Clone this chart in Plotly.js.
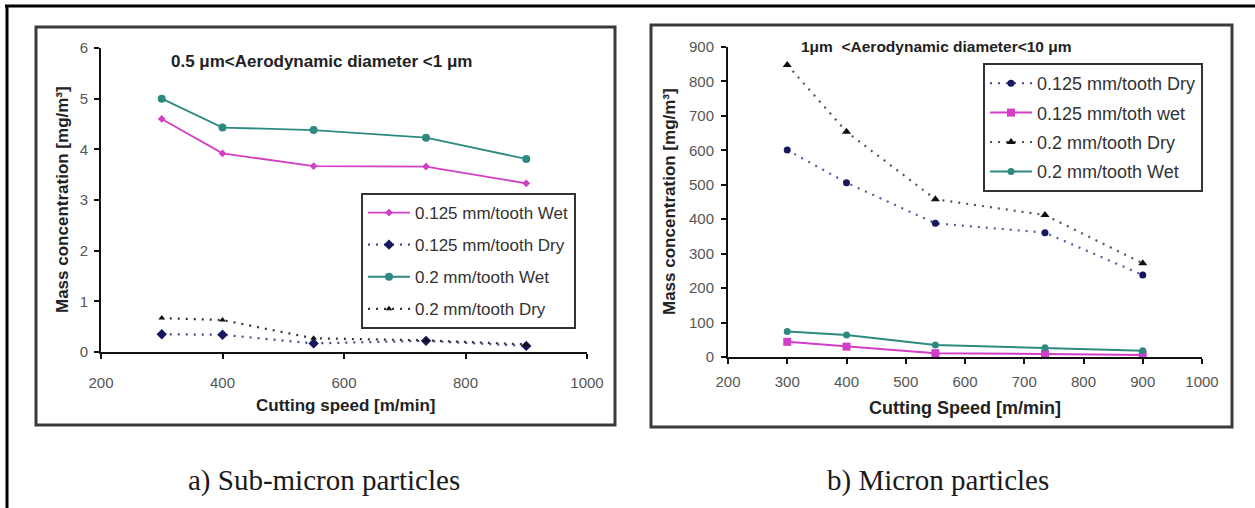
<!DOCTYPE html>
<html>
<head>
<meta charset="utf-8">
<script src="https://cdn.plot.ly/plotly-3.0.1.min.js"></script>
<style>html,body{margin:0;padding:0;background:#fff;}#chart{width:1255px;height:508px;}</style>
</head>
<body>
<div id="chart"></div>
<script>
// ---- data ----
const speeds = [300, 400, 550, 735, 900];
// a) sub-micron (0.5-1 um), mg/m3
const subWet0125 = [4.60, 3.92, 3.67, 3.66, 3.33];
const subDry0125 = [0.35, 0.34, 0.17, 0.22, 0.12];
const subWet02   = [5.00, 4.43, 4.38, 4.23, 3.81];
const subDry02   = [0.67, 0.63, 0.27, 0.23, 0.15];
// b) micron (1-10 um), mg/m3
const micDry0125 = [601, 506, 388, 361, 238];
const micWet0125 = [44, 30, 11, 9, 6];
const micDry02   = [848, 654, 458, 412, 272];
const micWet02   = [74, 64, 35, 27, 18];

const leftTicks = [200, 400, 600, 800, 1000];
const rightTicks = [200, 300, 400, 500, 600, 700, 800, 900, 1000];

const W = 1255, H = 508;
const px = v => v / W;
const py = v => 1 - v / H;
const SANS = 'Liberation Sans, Arial, sans-serif';
const SERIF = 'Liberation Serif, Times New Roman, serif';

const MAG = '#d23fc4', TEAL = '#2e8a80', NAVY = '#17175e';

const traces = [
  {x: speeds, y: subWet0125, name: '0.125 mm/tooth Wet', xaxis: 'x', yaxis: 'y', legend: 'legend', legendgroup: 'a1',
   mode: 'lines+markers', line: {color: MAG, width: 1.8}, marker: {color: MAG, symbol: 'diamond', size: 6}},
  {x: speeds, y: subDry0125, name: '0.125 mm/tooth Dry', xaxis: 'x', yaxis: 'y', legend: 'legend', legendgroup: 'a2',
   mode: 'lines+markers', line: {color: '#4a4a8a', width: 2.2, dash: '2px,6px'}, marker: {color: NAVY, symbol: 'diamond', size: 8}},
  {x: speeds, y: subWet02, name: '0.2 mm/tooth Wet', xaxis: 'x', yaxis: 'y', legend: 'legend', legendgroup: 'a3',
   mode: 'lines+markers', line: {color: TEAL, width: 1.8}, marker: {color: TEAL, symbol: 'circle', size: 8}},
  {x: speeds, y: subDry02, name: '0.2 mm/tooth Dry', xaxis: 'x', yaxis: 'y', legend: 'legend', legendgroup: 'a4',
   mode: 'lines+markers', line: {color: '#333', width: 2.2, dash: '2px,6px'}, marker: {color: '#111', symbol: 'triangle-up', size: 6}},

  {x: speeds, y: micDry0125, name: '0.125 mm/tooth Dry', xaxis: 'x2', yaxis: 'y2', legend: 'legend2', legendgroup: 'b1',
   mode: 'lines+markers', line: {color: '#5a5a9a', width: 2.2, dash: '2px,6px'}, marker: {color: NAVY, symbol: 'circle', size: 7}},
  {x: speeds, y: micWet0125, name: '0.125 mm/toth wet', xaxis: 'x2', yaxis: 'y2', legend: 'legend2', legendgroup: 'b2',
   mode: 'lines+markers', line: {color: MAG, width: 2}, marker: {color: MAG, symbol: 'square', size: 8}},
  {x: speeds, y: micDry02, name: '0.2 mm/tooth Dry', xaxis: 'x2', yaxis: 'y2', legend: 'legend2', legendgroup: 'b3',
   mode: 'lines+markers', line: {color: '#555', width: 2.2, dash: '2px,6px'}, marker: {color: '#111', symbol: 'triangle-up', size: 8}},
  {x: speeds, y: micWet02, name: '0.2 mm/tooth Wet', xaxis: 'x2', yaxis: 'y2', legend: 'legend2', legendgroup: 'b4',
   mode: 'lines+markers', line: {color: TEAL, width: 2}, marker: {color: TEAL, symbol: 'circle', size: 7}}
];

const axisBase = {
  showline: true, linecolor: '#111', linewidth: 2, ticks: 'outside', ticklen: 5, tickwidth: 2, tickcolor: '#111',
  showgrid: false, zeroline: false, fixedrange: true,
  tickfont: {family: SANS, size: 15, color: '#555'}
};

const legendBase = {
  xanchor: 'left', yanchor: 'top', bgcolor: '#fff', bordercolor: '#333', borderwidth: 2,
  traceorder: 'grouped', itemwidth: 42
};

const ann = (x, y, text, size, opts) => Object.assign({
  xref: 'paper', yref: 'paper', x: px(x), y: py(y), text: text, showarrow: false,
  xanchor: 'center', yanchor: 'middle', font: {family: SANS, size: size, color: '#222'}
}, opts || {});

const layout = {
  width: W, height: H, margin: {l: 0, r: 0, t: 0, b: 0},
  paper_bgcolor: '#fff', plot_bgcolor: 'rgba(0,0,0,0)',
  xaxis: Object.assign({}, axisBase, {domain: [px(101), px(587)], range: [200, 1000], tickvals: leftTicks, anchor: 'y', ticklabelstandoff: 11}),
  yaxis: Object.assign({}, axisBase, {domain: [1 - 352 / H, 1 - 48 / H], range: [0, 6], dtick: 1, anchor: 'x', ticklabelstandoff: 3}),
  xaxis2: Object.assign({}, axisBase, {domain: [px(728), px(1202)], range: [200, 1000], tickvals: rightTicks, anchor: 'y2', ticklabelstandoff: 5}),
  yaxis2: Object.assign({}, axisBase, {domain: [1 - 357 / H, 1 - 47 / H], range: [0, 900], dtick: 100, anchor: 'x2', ticklabelstandoff: 4}),
  legend: Object.assign({}, legendBase, {x: px(361), y: py(193), tracegroupgap: 7,
    font: {family: SANS, size: 17, color: '#333'}}),
  legend2: Object.assign({}, legendBase, {x: px(983), y: py(63), tracegroupgap: 3,
    font: {family: SANS, size: 18, color: '#333'}}),
  annotations: [
    ann(321, 61, '<b>0.5 μm&lt;Aerodynamic diameter &lt;1 μm</b>', 17),
    ann(936, 46, '<b>1μm  &lt;Aerodynamic diameter&lt;10 μm</b>', 15.5),
    ann(345, 405, '<b>Cutting speed [m/min]</b>', 17),
    ann(965, 408, '<b>Cutting Speed [m/min]</b>', 18),
    ann(63, 200, '<b>Mass concentration [mg/m³]</b>', 17, {textangle: -90}),
    ann(670, 202, '<b>Mass concentration [mg/m³]</b>', 17, {textangle: -90}),
    ann(324, 480, 'a) Sub-micron particles', 29, {font: {family: SERIF, size: 29, color: '#1a1a1a'}}),
    ann(938, 480, 'b) Micron particles', 29, {font: {family: SERIF, size: 29, color: '#1a1a1a'}})
  ],
  shapes: [
    {type: 'line', xref: 'paper', yref: 'paper', x0: px(5), x1: 1, y0: py(6), y1: py(6), line: {color: '#000', width: 3}},
    {type: 'line', xref: 'paper', yref: 'paper', x0: px(7), x1: px(7), y0: py(5), y1: 0, line: {color: '#000', width: 3}},
    {type: 'rect', xref: 'paper', yref: 'paper', x0: px(36), x1: px(615), y0: py(27), y1: py(425), line: {color: '#3a3a3a', width: 3}, layer: 'below'},
    {type: 'rect', xref: 'paper', yref: 'paper', x0: px(651), x1: px(1232), y0: py(25), y1: py(427), line: {color: '#3a3a3a', width: 3}, layer: 'below'}
  ],
  showlegend: true
};

Plotly.newPlot('chart', traces, layout, {displayModeBar: false, staticPlot: true});
</script>
</body>
</html>
